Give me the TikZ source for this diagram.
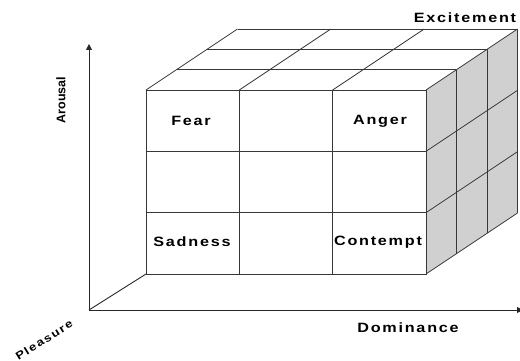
\documentclass[tikz,border=0pt]{standalone}
\usepackage{fontspec}
\usetikzlibrary{arrows.meta, calc}
\newfontfamily\cubefont{Liberation Sans}[FakeStretch=1.2, LetterSpace=13]
\newfontfamily\axisfont{Liberation Sans}
\definecolor{cubeline}{RGB}{55,55,55}
\definecolor{sideshade}{RGB}{208,208,208}
\tikzset{
  cubeedge/.style={draw=cubeline, line width=0.8pt},
  cellname/.style={font=\cubefont\bfseries\fontsize{13.5}{15}\selectfont, inner sep=0pt},
  axisname/.style={font=\cubefont\bfseries\fontsize{13.5}{15}\selectfont, inner sep=0pt},
  axisline/.style={draw=black!85, line width=0.9pt},
  axisarrow/.style={axisline, -{Triangle[width=6pt, length=6pt]}}
}
% cell size and depth step of the cube
\def\cw{93.33}
\def\ch{61.33}
\def\dx{30.5}
\def\dy{-20.33}
\begin{document}
\begin{tikzpicture}[x=1pt, y=-1pt]
  \useasboundingbox (0,0) rectangle (520,361);

  % Axes
  \coordinate (origin) at (89,310);
  \coordinate (arousal top) at (89,44);
  \coordinate (dominance end) at (523,310);
  \coordinate (corner) at (146,274);
  \draw[axisarrow] (origin) -- (arousal top);
  \draw[axisarrow] (origin) -- (dominance end);
  \draw[axisline] (origin) -- (corner);

  % Right side (shaded)
  \fill[sideshade] (426,90) -- ++(3*\dx,3*\dy) -- ++(0,3*\ch) -- (426,274) -- cycle;
  \foreach \k in {1,2,3}
    \draw[cubeedge] (426+\k*\dx, 90+\k*\dy) -- ++(0,3*\ch);
  \foreach \j in {1,2,3}
    \draw[cubeedge] (426, 90+\j*\ch) -- ++(3*\dx,3*\dy);

  % Top side
  \foreach \k in {1,2,3}
    \draw[cubeedge] (146+\k*\dx, 90+\k*\dy) -- ++(3*\cw,0);
  \foreach \i in {0,...,3}
    \draw[cubeedge] (146+\i*\cw, 90) -- ++(3*\dx,3*\dy);

  % Front side
  \foreach \i in {0,1,2}{
    \foreach \j in {0,1,2}{
      \draw[cubeedge] (146+\i*\cw, 90+\j*\ch) rectangle ++(\cw,\ch);
    }
  }

  % Emotion labels
  \node[cellname] (fear) at (191,121) {Fear};
  \node[cellname] (anger) at (380,121) {Anger};
  \node[cellname] (sadness) at (192,242) {Sadness};
  \node[cellname] (contempt) at (378,242) {Contempt};
  \node[cellname] (excitement) at (465,18) {Excitement};

  % Axis labels
  \node[font=\axisfont\bfseries\fontsize{12.5}{14}\selectfont, rotate=90] (arousal) at (61,100) {Arousal};
  \node[axisname] (dominance) at (408,328) {Dominance};
  \node[font=\cubefont\bfseries\fontsize{11}{13}\selectfont, rotate=32, inner sep=0pt] (pleasure) at (44,340) {Pleasure};
\end{tikzpicture}
\end{document}
